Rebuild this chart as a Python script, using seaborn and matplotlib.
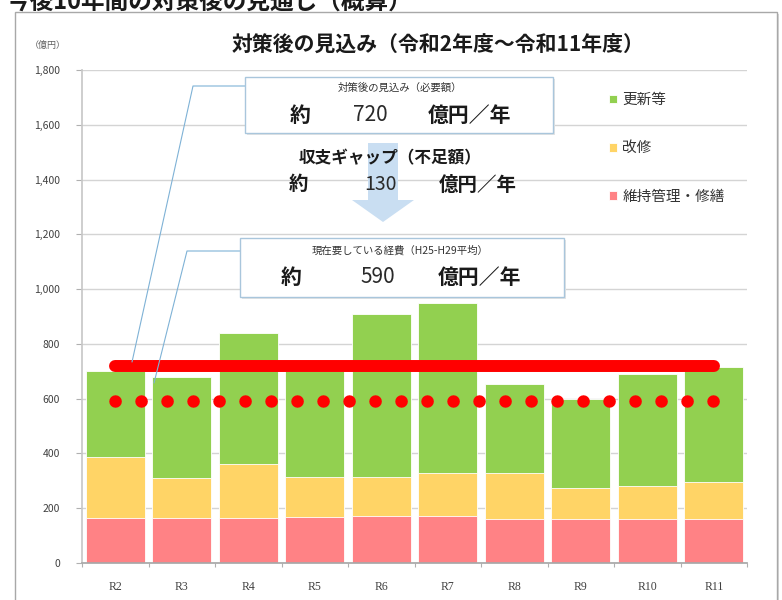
"""Recreate the stacked cost-outlook chart (令和2年度～令和11年度)."""

import matplotlib
matplotlib.use("Agg")

import matplotlib.pyplot as plt
import pandas as pd
import seaborn as sns
from matplotlib.lines import Line2D
from matplotlib.patches import FancyBboxPatch, Polygon, Rectangle

W, H = 782, 600

YEARS = ["R2", "R3", "R4", "R5", "R6", "R7", "R8", "R9", "R10", "R11"]
# stacked tops (億円)
MAINTENANCE = [165, 165, 165, 168, 170, 170, 160, 160, 160, 160]   # 維持管理・修繕
REPAIR_TOP = [388, 310, 362, 315, 315, 330, 330, 273, 281, 297]    # + 改修
TOTAL = [700, 678, 840, 700, 910, 950, 655, 600, 690, 715]         # + 更新等

NEEDED = 720     # 対策後の見込み（必要額）
CURRENT = 590    # 現在要している経費（H25-H29平均）
GAP = 130        # 収支ギャップ（不足額）

YTICKS = list(range(0, 1801, 200))

GREEN = "#92D050"
ORANGE = "#FFD466"
PINK = "#FF8285"
RED = "#FF0000"

sns.set_theme(style="white")
plt.rcParams["font.family"] = ["Noto Sans CJK JP", "DejaVu Sans"]


def fx(px):
    return px / W


def fy(py):
    return 1 - py / H


df = pd.DataFrame({"year": YEARS, "total": TOTAL,
                   "repair": REPAIR_TOP, "maint": MAINTENANCE})

fig = plt.figure(figsize=(W / 100, H / 100), dpi=100)
fig.patch.set_facecolor("white")

# page heading (cut off at the top edge, as in the source) and the chart frame
fig.text(fx(412), fy(2), "今後10年間の対策後の見通し（概算）", ha="right", va="center",
         fontsize=17, fontweight="bold", color="#1a1a1a")
fig.patches.append(Rectangle((fx(17), fy(640)), fx(762), fy(14) - fy(640),
                             transform=fig.transFigure, facecolor="#d8d8d8",
                             edgecolor="none", zorder=-2))
fig.patches.append(Rectangle((fx(15), fy(640)), fx(762), fy(12) - fy(640),
                             transform=fig.transFigure, facecolor="white",
                             edgecolor="#a8a8a8", linewidth=1.0, zorder=-1))

ax = fig.add_axes([fx(82), fy(563), fx(747) - fx(82), fy(70) - fy(563)])
ax.set_facecolor("none")

bar_kw = dict(width=0.88, saturation=1, edgecolor="white", linewidth=0.6,
              ax=ax, zorder=2)
sns.barplot(data=df, x="year", y="total", color=GREEN, label="更新等", **bar_kw)
sns.barplot(data=df, x="year", y="repair", color=ORANGE, label="改修", **bar_kw)
sns.barplot(data=df, x="year", y="maint", color=PINK, label="維持管理・修繕", **bar_kw)

x_end = len(YEARS) - 1
ax.plot([0, x_end], [NEEDED, NEEDED], color=RED, linewidth=8.6,
        solid_capstyle="round", zorder=4)
ax.plot([0, x_end], [CURRENT, CURRENT], color=RED, linewidth=9.0,
        linestyle=(0, (0.01, 2.07)), dash_capstyle="round", zorder=4)

ax.set_ylim(0, 1800)
ax.set_xlim(-0.5, len(YEARS) - 0.5)
ax.set_yticks(YTICKS)
ax.set_yticklabels([f"{v:,}" for v in YTICKS])
ax.set_xlabel("")
ax.set_ylabel("")
ax.grid(axis="y", color="#d4d4d4", linewidth=1.0, zorder=0)
ax.set_axisbelow(True)
for side in ["top", "right"]:
    ax.spines[side].set_visible(False)
ax.spines["left"].set_color("#c8c8c8")
ax.spines["bottom"].set_color("#a8a8a8")
ax.tick_params(axis="y", length=4, width=0.8, color="#b0b0b0", pad=12,
               labelsize=7.5, labelcolor="#404040", left=True)
ax.tick_params(axis="x", which="major", length=0, pad=13, labelsize=8.5,
               labelcolor="#404040")
ax.set_xticks([i + 0.5 for i in range(-1, len(YEARS))], minor=True)
ax.tick_params(axis="x", which="minor", length=3, width=0.8, color="#b0b0b0",
               bottom=True)
for lab in ax.get_xticklabels():
    lab.set_family(["Liberation Serif", "DejaVu Serif"])

handles, labels = ax.get_legend_handles_labels()
ax.legend(handles, labels, loc="upper left", bbox_to_anchor=(fx(596), fy(80)),
          bbox_transform=fig.transFigure, frameon=False, fontsize=10.5,
          handlelength=0.55, handleheight=0.55, handletextpad=0.35,
          labelspacing=2.35, labelcolor="#333333")

# titles
fig.text(fx(438), fy(45), "対策後の見込み（令和2年度～令和11年度）", ha="center",
         va="center", fontsize=15, fontweight="bold", color="#1a1a1a")
fig.text(fx(48), fy(45), "（億円）", ha="center", va="center", fontsize=6.5,
         color="#606060")

# connector lines from the boxes to the two red lines
line_c = "#7fb2d6"
fig.lines.append(Line2D([fx(245), fx(193), fx(132)], [fy(86), fy(86), fy(362)],
                        transform=fig.transFigure, color=line_c, linewidth=0.8,
                        zorder=3))
fig.lines.append(Line2D([fx(240), fx(187), fx(154)], [fy(251), fy(251), fy(383)],
                        transform=fig.transFigure, color=line_c, linewidth=0.8,
                        zorder=3))

# down arrow behind the gap text
fig.patches.append(Polygon([(fx(368), fy(143)), (fx(398), fy(143)), (fx(398), fy(200)),
                            (fx(414), fy(200)), (fx(383), fy(222)), (fx(352), fy(200)),
                            (fx(368), fy(200))],
                           closed=True, transform=fig.transFigure,
                           facecolor="#c9def2", edgecolor="none", zorder=3))


def note_box(x0, y0, x1, y1):
    fig.patches.append(FancyBboxPatch((fx(x0 + 2), fy(y1 + 2)), fx(x1) - fx(x0),
                                      fy(y0) - fy(y1), boxstyle="square,pad=0",
                                      transform=fig.transFigure, facecolor="#e4e4e4",
                                      edgecolor="none", zorder=4))
    fig.patches.append(FancyBboxPatch((fx(x0), fy(y1)), fx(x1) - fx(x0),
                                      fy(y0) - fy(y1), boxstyle="square,pad=0",
                                      transform=fig.transFigure, facecolor="white",
                                      edgecolor="#a9c6dc", linewidth=1.0, zorder=4))


def amount_row(y, value, xs, size):
    fig.text(fx(xs[0]), fy(y), "約", ha="center", va="center", fontsize=size,
             fontweight="bold", color="#1a1a1a", zorder=6)
    fig.text(fx(xs[1]), fy(y), f"{value}", ha="center", va="center", fontsize=size,
             color="#2a2a2a", zorder=6)
    fig.text(fx(xs[2]), fy(y), "億円／年", ha="center", va="center", fontsize=size,
             fontweight="bold", color="#1a1a1a", zorder=6)


note_box(245, 77, 553, 133)
fig.text(fx(400), fy(88), "対策後の見込み（必要額）", ha="center", va="center",
         fontsize=7.5, color="#333333", zorder=6)
amount_row(115, NEEDED, (300, 370, 470), 15)

fig.text(fx(390), fy(158), "収支ギャップ（不足額）", ha="center", va="center",
         fontsize=12, fontweight="bold", color="#1a1a1a", zorder=6)
amount_row(185, GAP, (298, 380, 478), 14)

note_box(240, 238, 564, 297)
fig.text(fx(400), fy(250), "現在要している経費（H25-H29平均）", ha="center",
         va="center", fontsize=7.5, color="#333333", zorder=6)
amount_row(277, CURRENT, (291, 378, 480), 15)

fig.savefig("out.png", dpi=100)
